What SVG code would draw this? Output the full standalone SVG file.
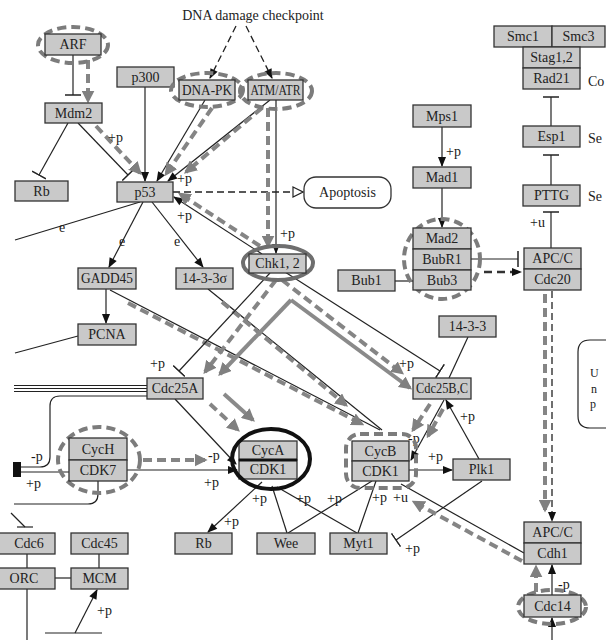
<svg xmlns="http://www.w3.org/2000/svg" width="606" height="640" viewBox="0 0 606 640">
<style>
.bx{fill:#c9c9c9;stroke:#333;stroke-width:1.3}
.t{font-family:"Liberation Serif",serif;font-size:14px;fill:#222;text-anchor:middle}
.l{font-family:"Liberation Serif",serif;font-size:14px;fill:#1a1a1a}
.ln{stroke:#222;stroke-width:1.2;fill:none}
.dl{stroke:#222;stroke-width:1.3;fill:none;stroke-dasharray:7 4}
.gd{stroke:#858585;stroke-width:4;fill:none;stroke-dasharray:9 5}
.gs{stroke:#8a8a8a;stroke-width:4;fill:none}
.halo{fill:none;stroke:#7c7c7c;stroke-width:4;stroke-dasharray:9 5}
.a{marker-end:url(#a)}
.g{marker-end:url(#g)}
.b{marker-end:url(#b)}
</style>
<defs>
<marker id="a" viewBox="0 0 10 10" refX="9" refY="5" markerWidth="11" markerHeight="10" orient="auto" markerUnits="userSpaceOnUse"><path d="M0,1L10,5L0,9z" fill="#111"/></marker>
<marker id="g" viewBox="0 0 10 10" refX="8" refY="5" markerWidth="13" markerHeight="13" orient="auto" markerUnits="userSpaceOnUse"><path d="M0,0L10,5L0,10z" fill="#808080"/></marker>
<marker id="b" viewBox="-1 -8 2 16" refX="0" refY="0" markerWidth="2" markerHeight="16" orient="auto" markerUnits="userSpaceOnUse"><path d="M0,-8V8" stroke="#222" stroke-width="1.5"/></marker>
<marker id="o" viewBox="0 0 12 12" refX="11" refY="6" markerWidth="12" markerHeight="12" orient="auto" markerUnits="userSpaceOnUse"><path d="M1,1L11,6L1,11z" fill="#fff" stroke="#222" stroke-width="1.2"/></marker>
</defs>
<rect width="606" height="640" fill="#fff"/>

<g id="connectors">
<line class="dl a" x1="236" y1="26" x2="210" y2="78"/>
<line class="dl a" x1="246" y1="26" x2="272" y2="78"/>
<line class="ln b" x1="73" y1="55" x2="73" y2="95"/>
<line class="gd g" x1="88" y1="60" x2="88" y2="101"/>
<line class="ln b" x1="68" y1="123" x2="39" y2="175"/>
<line class="ln b" x1="78" y1="123" x2="128" y2="175"/>
<line class="gd g" x1="96" y1="126" x2="140" y2="173"/>
<line class="ln a" x1="145" y1="87" x2="145" y2="181"/>
<line class="ln a" x1="205" y1="100" x2="157" y2="181"/>
<line class="ln a" x1="270" y1="100" x2="168" y2="181"/>
<line class="gd g" x1="212" y1="108" x2="166" y2="174"/>
<line class="gd g" x1="262" y1="108" x2="186" y2="172"/>
<line class="ln a" x1="262" y1="254" x2="174" y2="197"/>
<line class="gd g" x1="260" y1="246" x2="180" y2="194"/>
<line class="dl" x1="173" y1="192" x2="303" y2="192" marker-end="url(#o)"/>
<line class="ln a" x1="276" y1="100" x2="276" y2="253"/>
<line class="gd g" x1="268" y1="108" x2="268" y2="246"/>
<line class="ln" x1="140" y1="202" x2="15" y2="240"/>
<line class="ln a" x1="143" y1="202" x2="109" y2="267"/>
<line class="ln a" x1="152" y1="202" x2="203" y2="267"/>
<line class="ln a" x1="106" y1="289" x2="106" y2="323"/>
<line class="ln" x1="78" y1="336" x2="15" y2="353"/>
<line class="ln" x1="110" y1="290" x2="380" y2="430"/>
<line class="ln" x1="208" y1="289" x2="382" y2="430"/>
<line class="gd g" x1="128" y1="303" x2="362" y2="424"/>
<line class="gd g" x1="222" y1="302" x2="346" y2="405"/>
<line class="ln b" x1="270" y1="273" x2="179" y2="371"/>
<line class="gd g" x1="276" y1="280" x2="205" y2="372"/>
<line class="gs g" x1="291" y1="300" x2="220" y2="374"/>
<line class="ln b" x1="285" y1="272" x2="440" y2="371"/>
<line class="gd g" x1="282" y1="280" x2="402" y2="373"/>
<line class="gs g" x1="291" y1="300" x2="410" y2="388"/>
<line class="ln" x1="468" y1="337" x2="449" y2="378"/>
<line class="ln" x1="14" y1="385.5" x2="147" y2="385.5"/>
<line class="ln" x1="14" y1="388.5" x2="147" y2="388.5"/>
<line class="ln" x1="14" y1="391.5" x2="147" y2="391.5"/>
<path class="ln" d="M147,396H60Q50,396 50,406V457Q50,467 40,467H21"/>
<line class="ln" x1="69" y1="472" x2="21" y2="472"/>
<rect x="13" y="462" width="8" height="15" fill="#111"/>
<path class="ln" d="M98,481V494Q98,504 88,504H14"/>
<line class="gd g" x1="143" y1="460" x2="205" y2="460"/>
<line class="ln a" x1="127" y1="470" x2="237" y2="470"/>
<line class="ln a" x1="175" y1="399" x2="236" y2="464"/>
<line class="gd g" x1="210" y1="404" x2="238" y2="430"/>
<line class="gs g" x1="224" y1="394" x2="253" y2="420"/>
<line class="ln a" x1="262" y1="482" x2="208" y2="532"/>
<line class="ln" x1="272" y1="486" x2="287" y2="533"/>
<line class="ln" x1="277" y1="487" x2="357" y2="533"/>
<line class="ln" x1="372" y1="481" x2="288" y2="533"/>
<line class="ln" x1="376" y1="481" x2="358" y2="533"/>
<line class="ln a" x1="409" y1="470" x2="452" y2="470"/>
<line class="ln a" x1="479" y1="459" x2="446" y2="400"/>
<line class="ln a" x1="444" y1="400" x2="411" y2="460"/>
<line class="gd g" x1="430" y1="404" x2="413" y2="430"/>
<line class="gd g" x1="443" y1="409" x2="428" y2="436"/>
<line class="ln b" x1="482" y1="481" x2="396" y2="540"/>
<line class="ln" x1="524" y1="553" x2="401" y2="484"/>
<line class="gd g" x1="522" y1="561" x2="414" y2="502"/>
<line class="dl a" x1="552" y1="291" x2="552" y2="521"/>
<line class="gd g" x1="545" y1="294" x2="545" y2="510"/>
<line class="ln a" x1="552" y1="595" x2="552" y2="565"/>
<line class="gd g" x1="536" y1="606" x2="536" y2="567"/>
<line class="ln a" x1="552" y1="640" x2="552" y2="618"/>
<line class="ln a" x1="442" y1="127" x2="442" y2="166"/>
<line class="ln a" x1="442" y1="188" x2="442" y2="227"/>
<line class="ln" x1="395" y1="281" x2="413" y2="281"/>
<line class="ln b" x1="471" y1="259" x2="518" y2="259"/>
<line x1="484" y1="272" x2="521" y2="272" stroke="#333" stroke-width="2.5" stroke-dasharray="8 5" class="a"/>
<line class="ln b" x1="551" y1="126" x2="551" y2="97"/>
<line class="ln b" x1="551" y1="185" x2="551" y2="155"/>
<line class="ln b" x1="551" y1="248" x2="551" y2="212"/>
<line class="ln" x1="11" y1="513" x2="25" y2="527"/>
<line class="ln" x1="17" y1="527" x2="33" y2="527" stroke-width="1.5"/>
<line class="ln" x1="27" y1="554" x2="27" y2="568"/>
<line class="ln" x1="27" y1="589" x2="27" y2="640"/>
<line class="ln" x1="55" y1="578" x2="71" y2="578"/>
<line class="ln" x1="99" y1="554" x2="99" y2="568"/>
<line class="ln" x1="45" y1="633" x2="102" y2="633"/>
<line class="ln a" x1="75" y1="633" x2="97" y2="590"/>
<path class="ln" d="M606,340H590Q578,340 578,352V416Q578,428 590,428H606"/>
</g>

<g id="labels">
<text class="t" x="253" y="20">DNA damage checkpoint</text>
<text class="l" x="108" y="142">+p</text>
<text class="l" x="177" y="183">+p</text>
<text class="l" x="177" y="220">+p</text>
<text class="l" x="280" y="238">+p</text>
<text class="l" x="59" y="232">e</text>
<text class="l" x="119" y="246">e</text>
<text class="l" x="174" y="246">e</text>
<text class="l" x="150" y="368">+p</text>
<text class="l" x="399" y="368">+p</text>
<text class="l" x="31" y="461">-p</text>
<text class="l" x="26" y="488">+p</text>
<text class="l" x="208" y="460">-p</text>
<text class="l" x="204" y="487">+p</text>
<text class="l" x="224" y="526">+p</text>
<text class="l" x="252" y="503">+p</text>
<text class="l" x="296" y="503">+p</text>
<text class="l" x="327" y="503">+p</text>
<text class="l" x="372" y="502">+p</text>
<text class="l" x="393" y="502">+u</text>
<text class="l" x="428" y="461">+p</text>
<text class="l" x="460" y="421">+p</text>
<text class="l" x="408" y="443">-p</text>
<text class="l" x="405" y="553">+p</text>
<text class="l" x="558" y="589">-p</text>
<text class="l" x="446" y="156">+p</text>
<text class="l" x="530" y="227">+u</text>
<text class="l" x="97" y="615">+p</text>
<text class="t" x="588" y="86" style="text-anchor:start">Co</text>
<text class="t" x="588" y="143" style="text-anchor:start">Se</text>
<text class="t" x="588" y="201" style="text-anchor:start">Se</text>
<text class="l" x="590" y="377" style="font-size:12px">U</text>
<text class="l" x="591" y="393" style="font-size:12px">n</text>
<text class="l" x="590" y="408" style="font-size:12px">p</text>
</g>

<g id="n-ARF"><ellipse class="halo" cx="73" cy="45" rx="35" ry="18"/><rect class="bx" x="45" y="34" width="56" height="21"/><text class="t" x="73" y="49">ARF</text></g>
<g id="n-Mdm2"><rect class="bx" x="45" y="103" width="57" height="20"/><text class="t" x="73.5" y="118">Mdm2</text></g>
<g id="n-p300"><rect class="bx" x="117" y="67" width="57" height="20"/><text class="t" x="145.5" y="82">p300</text></g>
<g id="n-Rb1"><rect class="bx" x="15" y="181" width="53" height="20"/><text class="t" x="41.5" y="196">Rb</text></g>
<g id="n-p53"><rect class="bx" x="117" y="182" width="56" height="20"/><text class="t" x="145" y="197">p53</text></g>
<g id="n-DNAPK"><ellipse class="halo" cx="207" cy="90" rx="36" ry="17"/><rect class="bx" x="179" y="80" width="56" height="20"/><text class="t" x="207" y="95" textLength="50" lengthAdjust="spacingAndGlyphs">DNA-PK</text></g>
<g id="n-ATMATR"><ellipse class="halo" cx="276" cy="91" rx="36" ry="18"/><rect class="bx" x="248" y="80" width="55" height="20"/><text class="t" x="275.5" y="95" textLength="50" lengthAdjust="spacingAndGlyphs">ATM/ATR</text></g>
<g id="n-Apoptosis"><rect x="304" y="177" width="87" height="31" rx="12" fill="#fff" stroke="#333" stroke-width="1.3"/><text class="t" x="347.5" y="197">Apoptosis</text></g>
<g id="n-Mps1"><rect class="bx" x="413" y="105" width="58" height="22"/><text class="t" x="442" y="121">Mps1</text></g>
<g id="n-Mad1"><rect class="bx" x="413" y="167" width="58" height="21"/><text class="t" x="442" y="182">Mad1</text></g>
<g id="n-Cohesin"><rect class="bx" x="494" y="26" width="58" height="21"/><text class="t" x="523" y="41">Smc1</text><rect class="bx" x="552" y="26" width="53" height="21"/><text class="t" x="578.5" y="41">Smc3</text><rect class="bx" x="523" y="47" width="57" height="21"/><text class="t" x="551.5" y="62">Stag1,2</text><rect class="bx" x="523" y="68" width="57" height="21"/><text class="t" x="551.5" y="83">Rad21</text></g>
<g id="n-Esp1"><rect class="bx" x="523" y="126" width="57" height="21"/><text class="t" x="551.5" y="141">Esp1</text></g>
<g id="n-PTTG"><rect class="bx" x="523" y="185" width="57" height="21"/><text class="t" x="551.5" y="200">PTTG</text></g>
<g id="n-APCC-Cdc20"><rect class="bx" x="524" y="248" width="57" height="21"/><text class="t" x="552.5" y="263">APC/C</text><rect class="bx" x="524" y="269" width="57" height="21"/><text class="t" x="552.5" y="284">Cdc20</text></g>
<g id="n-MCC"><ellipse class="halo" cx="442" cy="259" rx="38" ry="40"/><rect class="bx" x="413" y="228" width="58" height="21"/><text class="t" x="442" y="243">Mad2</text><rect class="bx" x="413" y="249" width="58" height="21"/><text class="t" x="442" y="264">BubR1</text><rect class="bx" x="413" y="270" width="58" height="20"/><text class="t" x="442" y="285">Bub3</text></g>
<g id="n-Bub1"><rect class="bx" x="338" y="270" width="57" height="21"/><text class="t" x="366.5" y="285">Bub1</text></g>
<g id="n-Chk12"><ellipse cx="278" cy="263" rx="35" ry="17" fill="none" stroke="#6e6e6e" stroke-width="4"/><rect class="bx" x="249" y="254" width="57" height="19"/><text class="t" x="277.5" y="268">Chk1, 2</text></g>
<g id="n-GADD45"><rect class="bx" x="78" y="268" width="58" height="21"/><text class="t" x="107" y="283" textLength="52" lengthAdjust="spacingAndGlyphs">GADD45</text></g>
<g id="n-1433s"><rect class="bx" x="176" y="268" width="57" height="21"/><text class="t" x="204.5" y="283">14-3-3σ</text></g>
<g id="n-PCNA"><rect class="bx" x="78" y="324" width="58" height="21"/><text class="t" x="107" y="339">PCNA</text></g>
<g id="n-1433"><rect class="bx" x="439" y="316" width="57" height="21"/><text class="t" x="467.5" y="331">14-3-3</text></g>
<g id="n-Cdc25A"><rect class="bx" x="147" y="378" width="56" height="21"/><text class="t" x="175" y="393">Cdc25A</text></g>
<g id="n-Cdc25BC"><rect class="bx" x="413" y="378" width="58" height="21"/><text class="t" x="442" y="393" textLength="52" lengthAdjust="spacingAndGlyphs">Cdc25B,C</text></g>
<g id="n-CycH-CDK7"><ellipse class="halo" cx="99" cy="460" rx="41" ry="33"/><rect class="bx" x="69" y="438" width="58" height="22"/><text class="t" x="98" y="454">CycH</text><rect class="bx" x="69" y="460" width="58" height="21"/><text class="t" x="98" y="475">CDK7</text></g>
<g id="n-CycA-CDK1"><rect class="bx" x="239" y="441" width="58" height="19"/><text class="t" x="268" y="455">CycA</text><rect class="bx" x="239" y="460" width="58" height="19"/><text class="t" x="268" y="474">CDK1</text><line x1="239" y1="460" x2="297" y2="460" stroke="#111" stroke-width="3"/><ellipse cx="271" cy="459" rx="39" ry="30" fill="none" stroke="#111" stroke-width="4"/></g>
<g id="n-CycB-CDK1"><rect class="halo" x="346" y="434" width="70" height="54" rx="14"/><rect class="bx" x="352" y="441" width="57" height="20"/><text class="t" x="380.5" y="456">CycB</text><rect class="bx" x="352" y="461" width="57" height="20"/><text class="t" x="380.5" y="476">CDK1</text></g>
<g id="n-Plk1"><rect class="bx" x="453" y="459" width="57" height="21"/><text class="t" x="481.5" y="474">Plk1</text></g>
<g id="n-Rb2"><rect class="bx" x="175" y="533" width="57" height="21"/><text class="t" x="203.5" y="548">Rb</text></g>
<g id="n-Wee"><rect class="bx" x="257" y="533" width="58" height="21"/><text class="t" x="286" y="548">Wee</text></g>
<g id="n-Myt1"><rect class="bx" x="330" y="533" width="57" height="21"/><text class="t" x="358.5" y="548">Myt1</text></g>
<g id="n-Cdc6"><rect class="bx" x="-2" y="533" width="57" height="21"/><text class="t" x="29" y="548">Cdc6</text></g>
<g id="n-ORC"><rect class="bx" x="-2" y="568" width="57" height="21"/><text class="t" x="24" y="583">ORC</text></g>
<g id="n-Cdc45"><rect class="bx" x="71" y="533" width="57" height="21"/><text class="t" x="99.5" y="548">Cdc45</text></g>
<g id="n-MCM"><rect class="bx" x="71" y="568" width="57" height="21"/><text class="t" x="99.5" y="583">MCM</text></g>
<g id="n-APCC-Cdh1"><rect class="bx" x="524" y="522" width="57" height="21"/><text class="t" x="552.5" y="537">APC/C</text><rect class="bx" x="524" y="543" width="57" height="21"/><text class="t" x="552.5" y="558">Cdh1</text></g>
<g id="n-Cdc14"><ellipse class="halo" cx="552" cy="607" rx="34" ry="17"/><rect class="bx" x="524" y="595" width="57" height="22"/><text class="t" x="552.5" y="611">Cdc14</text></g>
</svg>
